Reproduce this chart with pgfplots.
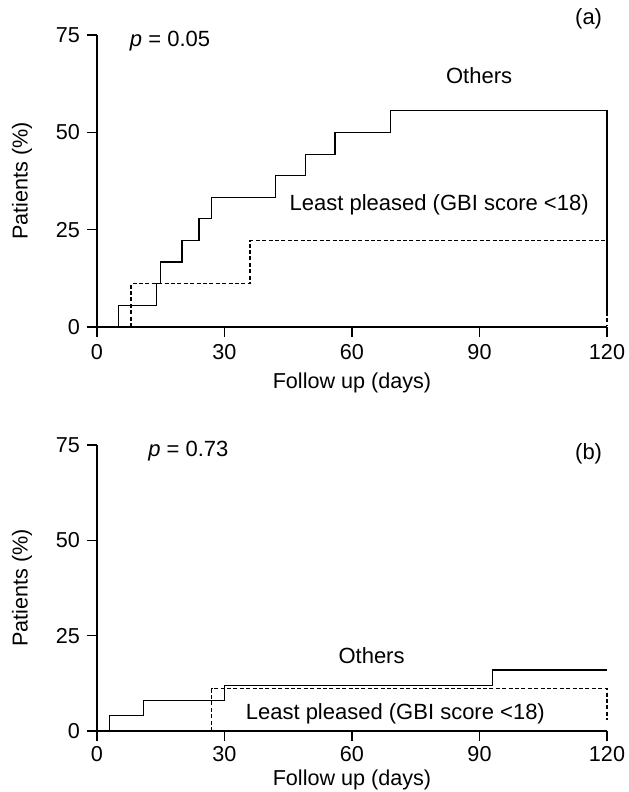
\documentclass[border=0pt]{standalone}
\usepackage{pgfplots}
\pgfplotsset{compat=1.18}
\usepackage{fontspec}
\setmainfont{Liberation Sans}

\pgfplotsset{
  kmstyle/.style={
    scale only axis, width=255pt, height=146pt,
    xmin=0, xmax=120, ymin=0, ymax=75,
    axis x line=bottom, axis y line=left,
    axis line style={-, line width=0.6pt},
    xtick={0,30,60,90,120}, ytick={0,25,50,75},
    tick align=outside, major tick length=5pt,
    tick style={line width=0.6pt, black},
    /pgf/number format/assume math mode=true,
    ticklabel style={font=\fontsize{10.8}{12}\selectfont},
    label style={font=\fontsize{10.8}{12}\selectfont},
    ylabel={Patients (\%)},
    ylabel style={at={(axis description cs:-0.147,0.5)}, anchor=center},
    xlabel={Follow up (days)},
    clip=false,
  },
  others/.style={black, line width=0.6pt},
  least/.style={black, line width=0.6pt, dash pattern=on 2pt off 1.2pt},
}
\tikzset{txt/.style={font=\fontsize{11}{12}\selectfont}}

\begin{document}
\begin{tikzpicture}
\useasboundingbox (0,0) rectangle (314pt,396pt);

% (a)
\begin{axis}[kmstyle, at={(48.5pt,232.5pt)}, anchor=south west,
  xlabel style={at={(axis description cs:0.5,-0.19)}, anchor=center}]
  % Others
  \addplot[others] coordinates {
    (5,0) (5,5.56) (14,5.56) (14,11.1) (15,11.1) (15,16.7)
    (20,16.7) (20,22.2) (24,22.2) (24,27.8) (27,27.8) (27,33.3)
    (42,33.3) (42,38.9) (49,38.9) (49,44.4) (56,44.4) (56,50.0)
    (69,50.0) (69,55.6) (120,55.6) (120,3)
  };
  % Least pleased
  \addplot[least] coordinates {
    (8,0) (8,11.1) (36,11.1) (36,22.2) (120,22.2) (120,0.5)
  };
  \node[anchor=west, txt] at (axis cs:6.1,73.4) {\textit{p} = 0.05};
  \node[anchor=east, txt] at (axis cs:120.5,79.2) {(a)};
  \node[txt] at (axis cs:89.9,64.6) {Others};
  \node[txt] at (axis cs:80.5,31.3) {Least pleased (GBI score <18)};
\end{axis}

% (b)
\begin{axis}[kmstyle, height=143pt, at={(48.5pt,30.5pt)}, anchor=south west,
  xticklabel style={inner sep=1pt, yshift=-1.5pt},
  xlabel style={at={(axis description cs:0.5,-0.171)}, anchor=center, inner sep=0.5pt}]
  % Others
  \addplot[others] coordinates {
    (3,0) (3,4.0) (11,4.0) (11,8.0) (30,8.0) (30,12.0)
    (93,12.0) (93,16.0) (120,16.0)
  };
  % Least pleased
  \addplot[least] coordinates {
    (27,0) (27,11.1) (120,11.1) (120,3)
  };
  \node[anchor=west, txt] at (axis cs:10.4,73.3) {\textit{p} = 0.73};
  \node[anchor=east, txt] at (axis cs:120.5,72.6) {(b)};
  \node[txt] at (axis cs:64.6,19.8) {Others};
  \node[txt] at (axis cs:70.2,4.4) {Least pleased (GBI score <18)};
\end{axis}
\end{tikzpicture}
\end{document}
